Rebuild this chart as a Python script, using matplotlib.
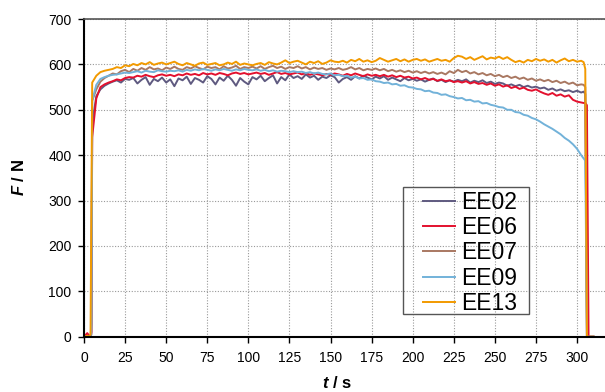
import numpy as np
import matplotlib
matplotlib.use("Agg")
import matplotlib.pyplot as plt
from matplotlib.patches import Rectangle

plt.rcParams['font.family'] = ['Liberation Sans', 'DejaVu Sans']
plt.rcParams['mathtext.fontset'] = 'custom'
plt.rcParams['mathtext.it'] = 'Liberation Sans:italic:bold'
plt.rcParams['mathtext.rm'] = 'Liberation Sans:bold'

# time axis: start, 2.5 s samples from 5 to 302.5, end of test
t_start = [0, 2, 3, 4, 4.5]
t_mid = list(np.arange(5, 302.6, 2.5))
t_end = [304, 305, 306, 307, 310]
t = t_start + t_mid + t_end

ee02 = ([0, 0, 0, 0, 5] +
        [470, 530, 545, 553, 558, 562, 565, 560, 568, 566,
         570, 558, 566, 572, 555, 568, 563, 571, 560, 567,
         552, 569, 565, 573, 557, 570, 566, 560, 574, 568,
         556, 571, 564, 575, 566, 553, 570, 562, 556, 572,
         567, 575, 563, 570, 576, 558, 572, 565, 578, 570,
         574, 568, 578, 571, 575, 566, 573, 570, 576, 572,
         560, 568, 572, 566, 574, 569, 575, 571, 567, 573,
         569, 574, 566, 571, 567, 563, 570, 565, 568, 564,
         567, 562, 566, 569, 563, 566, 561, 565, 562, 566,
         563, 567, 560, 564, 561, 565, 559, 562, 557, 560,
         558, 553, 556, 552, 555, 550, 553, 549, 551, 547,
         549, 544, 547, 542, 545, 541, 543, 539, 542, 538] +
        [540, 535, 0, 0, 0])

ee06 = ([0, 8, 3, 0, 10] +
        [440, 525, 550, 556, 560, 563, 567, 565, 570, 572,
         571, 575, 573, 577, 574, 572, 576, 578, 575, 577,
         574, 578, 576, 580, 577, 579, 576, 581, 578, 580,
         577, 581, 579, 576, 580, 582, 579, 581, 578, 580,
         582, 579, 581, 577, 580, 583, 579, 581, 578, 580,
         582, 578, 581, 577, 580, 578, 576, 579, 577, 580,
         578, 575, 579, 576, 580, 577, 574, 578, 575, 577,
         574, 577, 573, 576, 572, 575, 571, 573, 569, 571,
         567, 570, 566, 568, 564, 567, 563, 565, 561, 563,
         560, 563, 558, 561, 557, 559, 555, 558, 553, 556,
         551, 554, 548, 551, 546, 549, 544, 542, 545, 540,
         536, 533, 537, 531, 534, 529, 532, 522, 518, 516] +
        [515, 515, 510, 0, 0])

ee07 = ([0, 0, 0, 0, 30] +
        [520, 545, 562, 570, 575, 580, 578, 585, 588, 583,
         590, 586, 592, 588, 594, 589, 591, 587, 593, 590,
         595, 590, 588, 594, 591, 596, 592, 589, 595, 592,
         594, 589, 596, 591, 593, 597, 590, 594, 592, 595,
         591, 596, 590, 594, 597, 592, 595, 590, 594, 592,
         596, 591, 594, 589, 593, 590, 592, 588, 591, 589,
         592, 588, 590, 594, 589, 592, 587, 590, 588, 591,
         587, 590, 585, 588, 584, 587, 583, 586, 582, 585,
         581, 584, 580, 583, 579, 582, 578, 585, 581, 588,
         583, 586, 580, 583, 578, 581, 576, 579, 574, 577,
         572, 575, 570, 573, 568, 571, 566, 569, 564, 567,
         563, 566, 561, 564, 559, 562, 557, 560, 554, 556] +
        [555, 550, 0, 0, 0])

ee09 = ([0, 0, 0, 0, 20] +
        [520, 555, 568, 572, 575, 577, 578, 580, 582, 581,
         583, 585, 582, 586, 584, 583, 587, 585, 584, 586,
         585, 587, 584, 588, 586, 589, 587, 590, 588, 586,
         589, 587, 590, 588, 586, 589, 587, 590, 588, 587,
         589, 586, 588, 585, 587, 584, 586, 585, 583, 585,
         583, 584, 581, 583, 580, 582, 579, 578, 580, 576,
         577, 574, 575, 571, 573, 569, 570, 566, 567, 563,
         562, 559, 560, 556, 557, 553, 554, 550, 549, 546,
         545, 541, 542, 538, 537, 533, 534, 530, 528, 525,
         526, 521, 522, 518, 519, 514, 515, 511, 509, 506,
         505, 500, 500, 495, 494, 489, 487, 482, 479, 474,
         468, 463, 458, 452, 446, 438, 432, 424, 414, 400] +
        [393, 388, 0, 0, 0])

ee13 = ([0, 2, 0, 5, 300] +
        [560, 575, 583, 586, 588, 590, 594, 592, 598, 596,
         601, 598, 603, 600, 605, 599, 602, 604, 600, 603,
         606, 601, 598, 603, 600, 597, 602, 604, 599, 601,
         603, 598, 600, 604, 601, 606, 599, 602, 600, 598,
         601, 603, 599, 605, 602, 600, 604, 609, 603, 606,
         608, 604, 600, 606, 603, 607, 601, 604, 609, 606,
         605, 608, 604, 610, 607, 612, 606, 609, 605, 608,
         614, 610, 606, 609, 612, 607, 611, 606, 610, 612,
         608, 611, 606, 609, 612, 608, 610, 606, 614, 619,
         617, 612, 616, 610, 614, 618, 611, 615, 613, 617,
         612, 616, 610, 605, 608, 604, 610, 607, 612, 608,
         611, 606, 610, 604, 609, 613, 607, 610, 606, 608] +
        [605, 590, 0, 0, 0])

labels = ['EE02', 'EE06', 'EE07', 'EE09', 'EE13']
colors = ['#5f5a80', '#e3102e', '#a97862', '#72b2d9', '#f29a00']
series = [ee02, ee06, ee07, ee09, ee13]

fig = plt.figure(figsize=(6.05, 3.92), dpi=100)
ax = fig.add_axes([0.1388, 0.141, 0.8612, 0.8105])

for y, c, lab in zip(series, colors, labels):
    ax.plot(t, y, color=c, lw=1.4, label=lab)

ax.set_xlim(0, 317)
ax.set_ylim(0, 700)
ax.set_xticks(np.arange(0, 301, 25))
ax.set_yticks(np.arange(0, 701, 100))
ax.tick_params(direction='out', length=4, width=1, labelsize=10, color='black')
ax.tick_params(axis='x', pad=6)
ax.tick_params(axis='y', pad=5)
ax.grid(True, color='#999999', lw=0.8, linestyle=(0, (1, 1.5)))

ax.spines['right'].set_visible(False)
ax.spines['top'].set_color('#555555')
ax.spines['top'].set_linewidth(1.2)
ax.spines['left'].set_linewidth(1.5)
ax.spines['bottom'].set_linewidth(1.5)

leg = ax.legend(loc='upper left', bbox_to_anchor=(0.6507, 0.4596), frameon=False,
                fontsize=16.5, borderpad=0, borderaxespad=0, handlelength=1.4,
                handletextpad=0.27, labelspacing=0.1)
ax.add_patch(Rectangle((0.6117, 0.0705), 0.2423, 0.3998, transform=ax.transAxes,
                       fill=False, edgecolor='#555555', lw=1.0, clip_on=False, zorder=5))

fig.text(0.032, 0.548, r'$\mathit{F}$ / N', rotation=90, ha='center', va='center',
         fontsize=12, fontweight='bold')
fig.text(0.557, 0.024, r'$\mathit{t}$ / s', ha='center', va='center',
         fontsize=12, fontweight='bold')

fig.savefig('out.png', dpi=100)
